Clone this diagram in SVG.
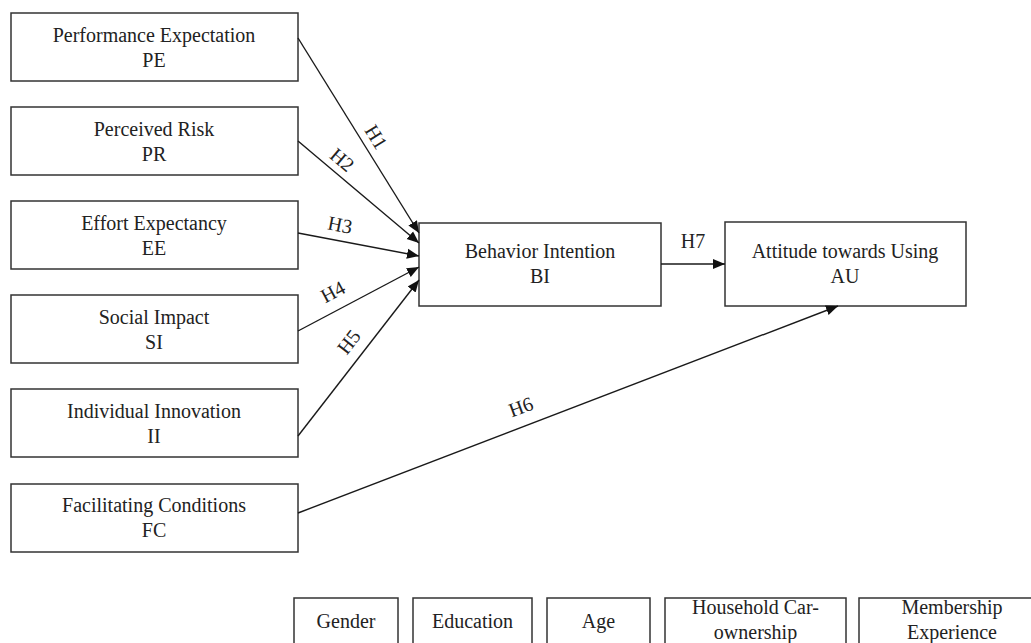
<svg xmlns="http://www.w3.org/2000/svg" width="1031" height="643" viewBox="0 0 1031 643">
  <style>
    .box { fill: #ffffff; stroke: #333333; stroke-width: 1.5; }
    .lbl { font-family: "Liberation Serif", "Times New Roman", serif; font-size: 20px; fill: #222222; text-anchor: middle; }
    .hyp { font-family: "Liberation Serif", "Times New Roman", serif; font-size: 20px; fill: #222222; text-anchor: middle; }
    .edge { stroke: #1a1a1a; stroke-width: 1.4; fill: none; marker-end: url(#arrow); }
  </style>
  <defs>
    <marker id="arrow" viewBox="0 0 10 10" refX="10" refY="5" markerWidth="12" markerHeight="12" markerUnits="userSpaceOnUse" orient="auto">
      <path d="M0,0.8 L10,5 L0,9.2 Z" fill="#111111"/>
    </marker>
  </defs>
  <rect width="1031" height="643" fill="#ffffff"/>

  <!-- predictor constructs -->
  <g id="node-pe">
    <rect class="box" x="11" y="13" width="287" height="68"/>
    <text class="lbl" x="154" y="42">Performance Expectation</text>
    <text class="lbl" x="154" y="67">PE</text>
  </g>
  <g id="node-pr">
    <rect class="box" x="11" y="107" width="287" height="68"/>
    <text class="lbl" x="154" y="136">Perceived Risk</text>
    <text class="lbl" x="154" y="161">PR</text>
  </g>
  <g id="node-ee">
    <rect class="box" x="11" y="201" width="287" height="68"/>
    <text class="lbl" x="154" y="230">Effort Expectancy</text>
    <text class="lbl" x="154" y="255">EE</text>
  </g>
  <g id="node-si">
    <rect class="box" x="11" y="295" width="287" height="68"/>
    <text class="lbl" x="154" y="324">Social Impact</text>
    <text class="lbl" x="154" y="349">SI</text>
  </g>
  <g id="node-ii">
    <rect class="box" x="11" y="389" width="287" height="68"/>
    <text class="lbl" x="154" y="418">Individual Innovation</text>
    <text class="lbl" x="154" y="443">II</text>
  </g>
  <g id="node-fc">
    <rect class="box" x="11" y="484" width="287" height="68"/>
    <text class="lbl" x="154" y="512">Facilitating Conditions</text>
    <text class="lbl" x="154" y="537">FC</text>
  </g>

  <!-- outcome constructs -->
  <g id="node-bi">
    <rect class="box" x="419" y="223" width="242" height="83"/>
    <text class="lbl" x="540" y="258">Behavior Intention</text>
    <text class="lbl" x="540" y="283">BI</text>
  </g>
  <g id="node-au">
    <rect class="box" x="725" y="222" width="241" height="84"/>
    <text class="lbl" x="845" y="258">Attitude towards Using</text>
    <text class="lbl" x="845" y="283">AU</text>
  </g>

  <!-- control variables -->
  <g id="node-gender">
    <rect class="box" x="294" y="598" width="104" height="60"/>
    <text class="lbl" x="346" y="628">Gender</text>
  </g>
  <g id="node-education">
    <rect class="box" x="413" y="598" width="119" height="60"/>
    <text class="lbl" x="472.5" y="628">Education</text>
  </g>
  <g id="node-age">
    <rect class="box" x="547" y="598" width="103" height="60"/>
    <text class="lbl" x="598.5" y="628">Age</text>
  </g>
  <g id="node-household">
    <rect class="box" x="665" y="598" width="181" height="60"/>
    <text class="lbl" x="755.5" y="614">Household Car-</text>
    <text class="lbl" x="755.5" y="639">ownership</text>
  </g>
  <g id="node-membership">
    <rect class="box" x="859" y="598" width="190" height="60"/>
    <text class="lbl" x="952" y="614">Membership</text>
    <text class="lbl" x="952" y="639">Experience</text>
  </g>

  <!-- hypothesised paths -->
  <g id="connectors">
    <line class="edge" x1="298" y1="38" x2="419" y2="233"/>
    <line class="edge" x1="298" y1="141" x2="419" y2="243"/>
    <line class="edge" x1="298" y1="233" x2="419" y2="256"/>
    <line class="edge" x1="298" y1="331" x2="419" y2="267"/>
    <line class="edge" x1="298" y1="436" x2="419" y2="280"/>
    <line class="edge" x1="298" y1="513" x2="838" y2="306"/>
    <line class="edge" x1="661" y1="264" x2="725" y2="264"/>

    <text class="hyp" transform="translate(376,137) rotate(58)" dy="0.33em">H1</text>
    <text class="hyp" transform="translate(342,160) rotate(40)" dy="0.33em">H2</text>
    <text class="hyp" transform="translate(340,225) rotate(11)" dy="0.33em">H3</text>
    <text class="hyp" transform="translate(333,292) rotate(-28)" dy="0.33em">H4</text>
    <text class="hyp" transform="translate(349,342) rotate(-52)" dy="0.33em">H5</text>
    <text class="hyp" transform="translate(521,407) rotate(-20)" dy="0.33em">H6</text>
    <text class="hyp" x="693" y="241" dy="0.33em">H7</text>
  </g>
</svg>
